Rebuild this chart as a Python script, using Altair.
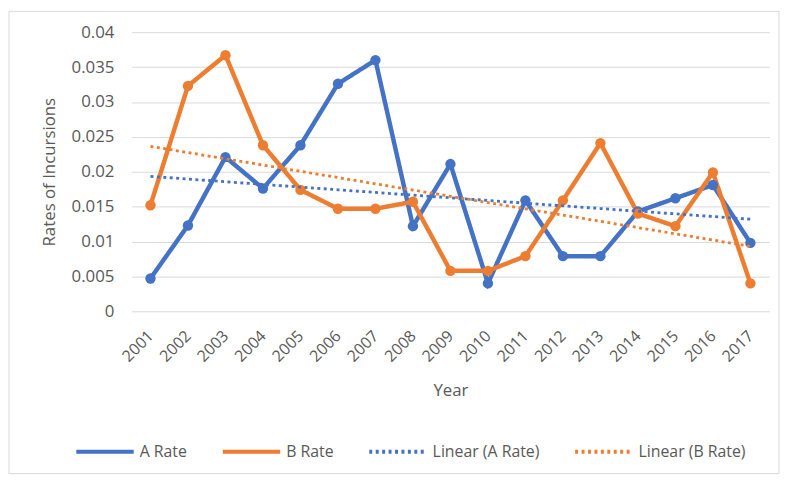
import altair as alt
import pandas as pd
import numpy as np

years = [str(y) for y in range(2001, 2018)]
a_rate = [0.0047, 0.0123, 0.0221, 0.0176, 0.0238, 0.0326, 0.0360, 0.0122, 0.0211,
          0.0040, 0.0159, 0.0079, 0.0079, 0.0143, 0.0162, 0.0181, 0.0098]
b_rate = [0.0152, 0.0323, 0.0367, 0.0238, 0.0174, 0.0147, 0.0147, 0.0157, 0.0058,
          0.0058, 0.0079, 0.0159, 0.0241, 0.0140, 0.0122, 0.0199, 0.0040]
series_names = ["A Rate", "B Rate", "Linear (A Rate)", "Linear (B Rate)"]
series_colors = ["#4472C4", "#ED7D31", "#4472C4", "#ED7D31"]

idx = np.arange(len(years))
a_fit = np.polyval(np.polyfit(idx, a_rate, 1), idx)
b_fit = np.polyval(np.polyfit(idx, b_rate, 1), idx)

rows = []
for name, vals in zip(series_names, [a_rate, b_rate, a_fit, b_fit]):
    for yr, v in zip(years, vals):
        rows.append({"Year": yr, "Rate": float(v), "Series": name})
df = pd.DataFrame(rows)

FONT = "Open Sans"
TXT = "#595959"
W, H = 644, 282

x = alt.X("Year:O", sort=years,
          scale=alt.Scale(type="point", padding=0.5),
          axis=alt.Axis(title="Year", labelAngle=315, labelAlign="right",
                        labelBaseline="middle", labelPadding=22, ticks=False,
                        domain=False, grid=False, labelFontSize=16,
                        titleFontSize=17, titleY=80, titleBaseline="middle"))
y = alt.Y("Rate:Q", scale=alt.Scale(domain=[0, 0.04], nice=False),
          axis=alt.Axis(title="Rates of Incursions",
                        values=[0, 0.005, 0.01, 0.015, 0.02, 0.025, 0.03, 0.035, 0.04],
                        format="~g", ticks=False, domain=False, labelPadding=18,
                        labelFontSize=17, titleFontSize=17,
                        titleX=-83, titleY=H / 2, titleAlign="center",
                        titleBaseline="middle"))
color = alt.Color("Series:N", scale=alt.Scale(domain=series_names, range=series_colors),
                  legend=alt.Legend(title=None))
dash = alt.StrokeDash("Series:N",
                      scale=alt.Scale(domain=series_names,
                                      range=[[1, 0], [1, 0], [3, 3.5], [3, 3.5]]),
                      legend=alt.Legend(title=None))

base = alt.Chart(df).encode(x=x, y=y, color=color, strokeDash=dash)

data_lines = base.transform_filter(
    alt.FieldOneOfPredicate(field="Series", oneOf=["A Rate", "B Rate"])
).mark_line(strokeWidth=4.5, point=alt.OverlayMarkDef(filled=True, size=110, opacity=1))

trend_lines = base.transform_filter(
    alt.FieldOneOfPredicate(field="Series", oneOf=["Linear (A Rate)", "Linear (B Rate)"])
).mark_line(strokeWidth=2.8)

border = alt.Chart(pd.DataFrame({"k": [0]})).mark_rect(
    fill=None, stroke="#D9D9D9", strokeWidth=1
).encode(x=alt.value(-124), x2=alt.value(654), y=alt.value(-21), y2=alt.value(446))

chart = alt.layer(border, data_lines, trend_lines).properties(
    width=W, height=H,
    autosize=alt.AutoSizeParams(type="none"),
    padding={"left": 125, "top": 22, "right": 14, "bottom": 165},
).configure(font=FONT).configure_view(stroke=None).configure_axis(
    labelColor=TXT, titleColor=TXT, titleFontWeight="normal", labelFont=FONT,
    titleFont=FONT, gridColor="#D9D9D9", gridWidth=1
).configure_legend(
    orient="none", legendX=-58, legendY=393, direction="horizontal",
    symbolType="stroke", symbolSize=3364, symbolStrokeWidth=4,
    labelFontSize=16, labelColor=TXT, labelFont=FONT, columnPadding=28,
    labelOffset=4, padding=0
)

chart.save("out.html", embed_options={"renderer": "svg", "actions": False})
